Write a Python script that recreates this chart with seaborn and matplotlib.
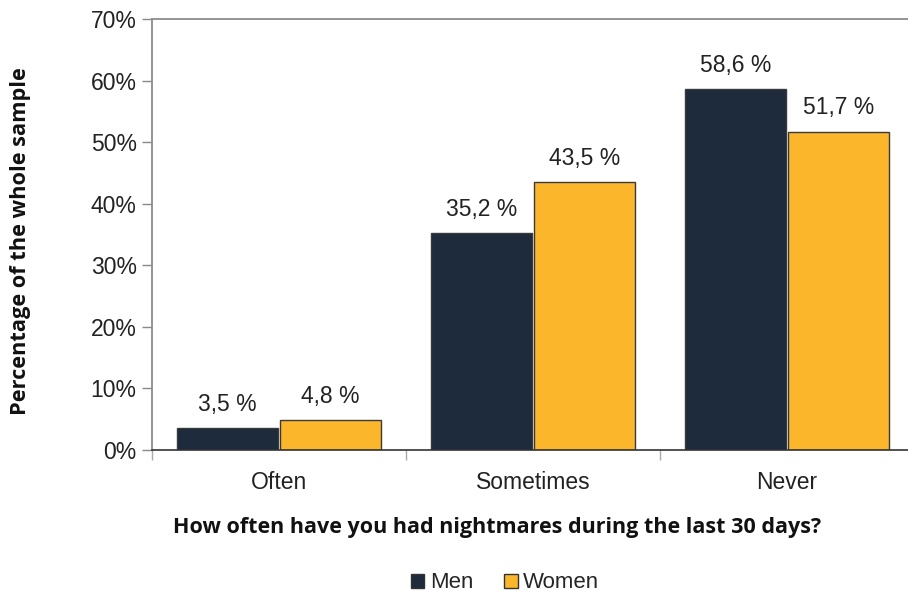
import matplotlib
matplotlib.use("Agg")
import matplotlib.pyplot as plt
import matplotlib.ticker as mticker
from matplotlib.patches import Patch
import seaborn as sns
import pandas as pd

categories = ["Often", "Sometimes", "Never"]
groups = ["Men", "Women"]
men_values = [3.5, 35.2, 58.6]
women_values = [4.8, 43.5, 51.7]
colors = {"Men": "#1d2b3c", "Women": "#fbb62b"}

df = pd.DataFrame({
    "category": categories * 2,
    "group": ["Men"] * 3 + ["Women"] * 3,
    "value": men_values + women_values,
})

sns.set_theme(style="white")
plt.rcParams["font.family"] = ["Liberation Sans", "DejaVu Sans"]

fig = plt.figure(figsize=(9.08, 5.94), dpi=100)
ax = fig.add_axes([152 / 908, 144 / 594, 762 / 908, 431 / 594])

sns.barplot(data=df, x="category", y="value", hue="group", order=categories,
            hue_order=groups, palette=colors, saturation=1, width=0.81, gap=0.02,
            edgecolor="#3a3a3a", linewidth=1.0, legend=False, ax=ax)

for cont in ax.containers:
    labels = [f"{b.get_height():.1f} %".replace(".", ",") for b in cont]
    ax.bar_label(cont, labels=labels, padding=9, fontsize=16.5, color="#222222")

ax.set_ylim(0, 70)
ax.set_xlim(-0.5, 2.5)
ax.yaxis.set_major_locator(mticker.MultipleLocator(10))
ax.yaxis.set_major_formatter(mticker.FuncFormatter(lambda v, p: f"{v:.0f}%"))
ax.tick_params(axis="y", labelsize=16.5, length=7, width=1, direction="out",
               left=True, pad=4, color="#888888", labelcolor="#222222")
ax.set_xticks([0, 1, 2])
ax.set_xticklabels(categories)
ax.tick_params(axis="x", which="major", length=0, labelsize=16.5,
               labelcolor="#222222", pad=15)
ax.set_xticks([-0.5, 0.5, 1.5, 2.5], minor=True)
ax.tick_params(axis="x", which="minor", length=7, width=1, color="#aaaaaa",
               direction="out", bottom=True)

for side in ["left", "top"]:
    ax.spines[side].set_color("#8c8c8c")
    ax.spines[side].set_linewidth(1.3)
ax.spines["right"].set_visible(False)
ax.spines["bottom"].set_color("#333333")
ax.spines["bottom"].set_linewidth(1.2)

ax.set_xlabel("How often have you had nightmares during the last 30 days?",
              fontsize=15.5, fontweight="bold", family=["Open Sans", "DejaVu Sans"],
              color="#111111")
ax.set_ylabel("Percentage of the whole sample", fontsize=15.7, fontweight="bold",
              family=["Open Sans", "DejaVu Sans"], color="#111111")
ax.xaxis.set_label_coords(345 / 762, -78 / 431)
ax.yaxis.set_label_coords(-131 / 762, 0.485)
ax.xaxis.label.set_va("center")
ax.yaxis.label.set_va("center")

handles = [Patch(facecolor=colors[g], edgecolor="#333333", linewidth=1.0, label=g)
           for g in groups]
fig.legend(handles=handles, loc="center", bbox_to_anchor=(505 / 908, 1 - 583 / 594),
           ncol=2, frameon=False, fontsize=16, handlelength=0.6, handleheight=0.6,
           handletextpad=0.25, columnspacing=1.4)

fig.savefig("out.png", dpi=100)
